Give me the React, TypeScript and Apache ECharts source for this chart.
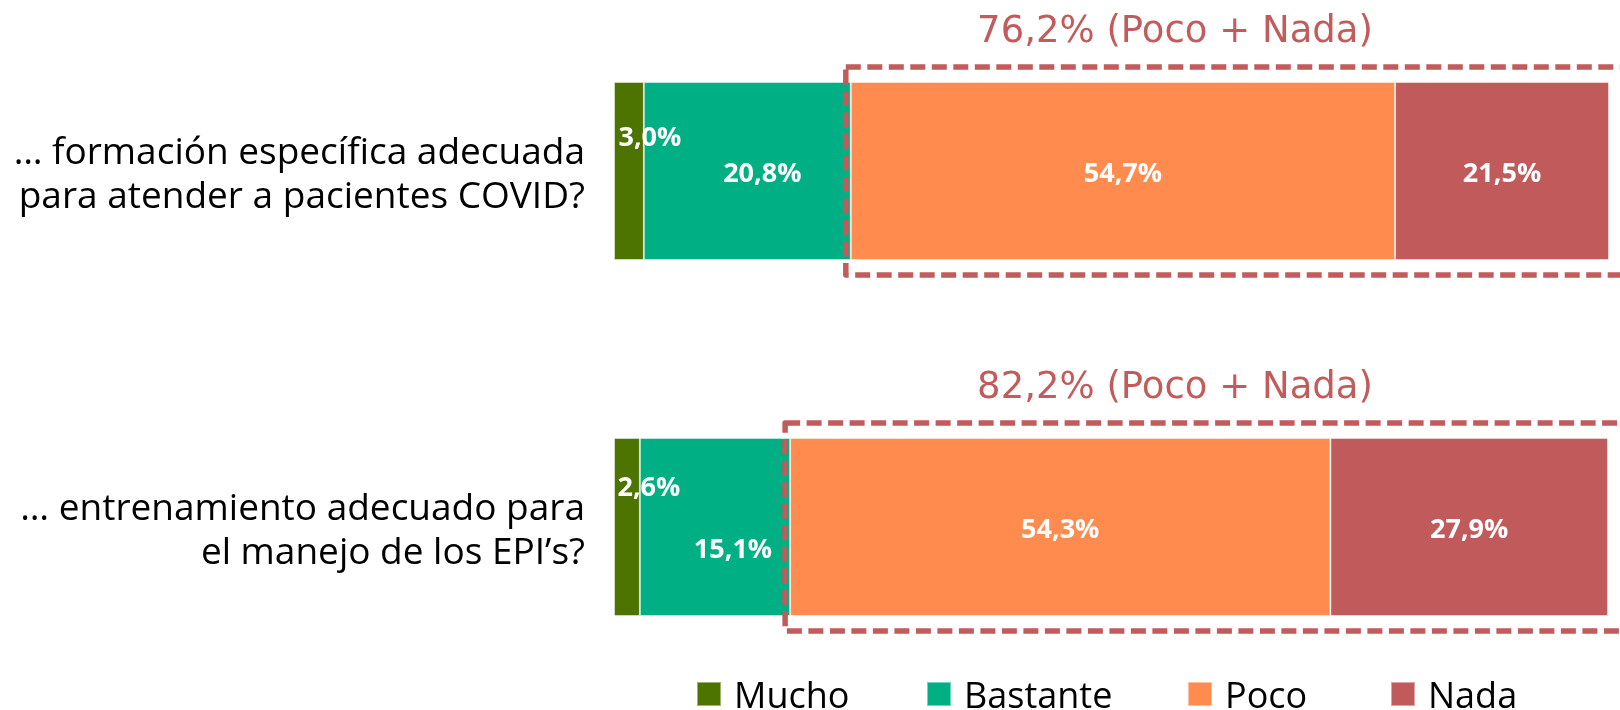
import React, { useEffect, useRef } from "react";
import * as echarts from "echarts";

const categories = [
  "… formación específica adecuada\npara atender a pacientes COVID?",
  "… entrenamiento adecuado para\nel manejo de los EPI’s?",
];
const seriesNames = ["Mucho", "Bastante", "Poco", "Nada"];
const mucho = [3.0, 2.6];
const bastante = [20.8, 15.1];
const poco = [54.7, 54.3];
const nada = [21.5, 27.9];

const colors = ["#4d7300", "#00b084", "#ff8c4e", "#c15b5b"];
const accent = "#c25b5c";
// manual label nudges (px) per series / category, as in the original
const labelOffsets = [
  [[21, -36], [22, -42]],
  [[15, 0], [18, 20]],
  [[0, 0], [0, 0]],
  [[0, 0], [0, 0]],
];
const legendLefts = [696, 926, 1187, 1390];
const SHIFT = 7; // chart canvas starts SHIFT px above the page top

const fmt = (v: number) => v.toFixed(1).replace(".", ",") + "%";

export default function App() {
  const ref = useRef<HTMLDivElement>(null);
  useEffect(() => {
    document.body.style.margin = "0";
    const chart = echarts.init(ref.current!, null, { renderer: "svg" });
    const values = [mucho, bastante, poco, nada];
    const series = values.map((arr, si) => ({
      name: seriesNames[si],
      type: "bar",
      stack: "total",
      barWidth: 178,
      itemStyle: {
        color: colors[si],
        borderColor: "rgba(255,255,255,0.45)",
        borderWidth: 1,
      },
      label: {
        show: true,
        position: "inside",
        color: "#ffffff",
        fontFamily: "Open Sans",
        fontWeight: "bold",
        fontSize: 27,
        formatter: (p: any) => fmt(p.value),
      },
      data: arr.map((v, ci) => ({
        value: v,
        label: { offset: labelOffsets[si][ci] },
      })),
    }));
    chart.setOption({
      animation: false,
      grid: { left: 614, right: 11, top: 0, bottom: 5, containLabel: false },
      xAxis: {
        type: "value",
        min: 0,
        max: 100,
        show: false,
      },
      yAxis: {
        type: "category",
        inverse: true,
        data: categories,
        axisLine: { show: false },
        axisTick: { show: false },
        splitLine: { show: false },
        axisLabel: {
          margin: 29,
          align: "right",
          color: "#000000",
          fontFamily: "Open Sans",
          fontSize: 37,
          lineHeight: 44,
        },
      },
      legend: seriesNames.map((n, i) => ({
        data: [n],
        left: legendLefts[i],
        top: 676 + SHIFT,
        padding: 0,
        itemWidth: 24,
        itemHeight: 24,
        icon: "rect",
        textStyle: {
          fontFamily: "Open Sans",
          fontSize: 36,
          lineHeight: 28,
          color: "#000000",
          padding: [0, 0, 0, 8],
        },
      })),
      series,
    });

    const graphics: any[] = [];
    categories.forEach((_, ci) => {
      const pocoStart = mucho[ci] + bastante[ci];
      const p = chart.convertToPixel({ gridIndex: 0 }, [pocoStart, ci]) as number[];
      const left = p[0] - 5;
      const top = p[1] - 89 - 15;
      const bottom = p[1] + 89 + 15;
      graphics.push({
        type: "rect",
        shape: { x: left, y: top, width: 1700 - left, height: bottom - top },
        style: {
          fill: "none",
          stroke: accent,
          lineWidth: 5.5,
          lineDash: [15, 6.5],
          lineJoin: "round",
        },
        z: 10,
      });
      const total = poco[ci] + nada[ci];
      graphics.push({
        type: "text",
        x: 1175,
        y: top - 38,
        style: {
          text: `${fmt(total)} (${seriesNames[2]} + ${seriesNames[3]})`,
          fill: accent,
          fontFamily: "DejaVu Sans",
          fontSize: 37,
          align: "center",
          verticalAlign: "middle",
        },
        z: 10,
      });
    });
    chart.setOption({ graphic: graphics });
    return () => chart.dispose();
  }, []);
  return (
    <div
      ref={ref}
      style={{
        position: "fixed",
        left: 0,
        top: -SHIFT,
        width: 1620,
        height: 710 + SHIFT,
      }}
    />
  );
}
